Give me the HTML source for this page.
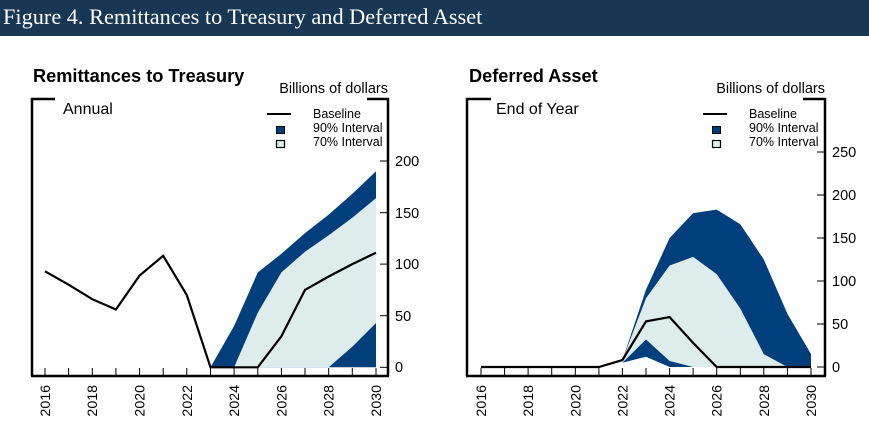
<!DOCTYPE html>
<html><head><meta charset="utf-8"><style>
html,body{margin:0;padding:0;background:#fff;width:869px;height:433px;overflow:hidden}
svg{display:block}
.s{font-family:"Liberation Sans",Arial,sans-serif}
</style></head><body>
<svg width="869" height="433" viewBox="0 0 869 433" xmlns="http://www.w3.org/2000/svg">
<rect x="0" y="0" width="869" height="36" fill="#173755"/>
<text x="3" y="24" font-family="Liberation Serif,serif" font-size="22.3" fill="#fff">Figure 4. Remittances to Treasury and Deferred Asset</text>

<!-- LEFT -->
<g class="s">
<text x="33" y="82" font-size="18.2" font-weight="bold">Remittances to Treasury</text>
<text x="388" y="93" font-size="14.5" text-anchor="end">Billions of dollars</text>
<polygon fill="#003f7c" points="210.5,367.3 234.1,326 257.8,272.4 281.4,253.8 305,233.1 328.7,214.6 352.3,193.9 376,171.2 376,367.3"/>
<polygon fill="#deeceb" points="234.1,367.3 257.8,312.6 281.4,272.4 305,251.7 328.7,235.2 352.3,217.7 376,198.1 376,323 352.3,346.7 328.7,367.3"/>
<path d="M32,376 V99 H55 M367,99 H388 V376" fill="none" stroke="#000" stroke-width="2.5"/>
<line x1="31" y1="376" x2="389" y2="376" stroke="#000" stroke-width="2.5"/>
<g stroke="#000" stroke-width="1">
<line x1="380" y1="161" x2="388" y2="161"/><line x1="380" y1="212.7" x2="388" y2="212.7"/><line x1="380" y1="264.1" x2="388" y2="264.1"/><line x1="380" y1="315.7" x2="388" y2="315.7"/><line x1="380" y1="367.3" x2="388" y2="367.3"/>
<path d="M45,376V368 M68.6,376V368 M92.3,376V368 M115.9,376V368 M139.6,376V368 M163.2,376V368 M186.8,376V368 M210.5,376V368 M234.1,376V368 M257.8,376V368 M281.4,376V368 M305,376V368 M328.7,376V368 M352.3,376V368 M376,376V368"/>
</g>
<polyline fill="none" stroke="#000" stroke-width="2.2" points="45,271.3 68.6,284.7 92.3,299.2 115.9,309.5 139.6,275.5 163.2,255.8 186.8,295.1 210.5,367.3 234.1,367.3 257.8,367.3 281.4,336.3 305,289.9 328.7,276.5 352.3,264.1 376,252.7"/>
<text x="63" y="114" font-size="16">Annual</text>
<line x1="267" y1="114" x2="291" y2="114" stroke="#000" stroke-width="2"/>
<rect x="276.5" y="126.5" width="8" height="7" fill="#003f7c" stroke="#000" stroke-width="1"/>
<rect x="276.5" y="140.5" width="8" height="7" fill="#deeceb" stroke="#000" stroke-width="1.2"/>
<text x="313" y="118" font-size="12.5">Baseline</text>
<text x="313" y="132" font-size="12.5">90% Interval</text>
<text x="313" y="146" font-size="12.5">70% Interval</text>
<g font-size="14.5">
<text x="395" y="166">200</text><text x="395" y="218">150</text><text x="395" y="269">100</text><text x="395" y="321">50</text><text x="395" y="372">0</text>
</g>
<g font-size="14.2" text-anchor="end">
<text transform="translate(50,385) rotate(-90)">2016</text>
<text transform="translate(97,385) rotate(-90)">2018</text>
<text transform="translate(144.5,385) rotate(-90)">2020</text>
<text transform="translate(191.8,385) rotate(-90)">2022</text>
<text transform="translate(239,385) rotate(-90)">2024</text>
<text transform="translate(286.4,385) rotate(-90)">2026</text>
<text transform="translate(333.7,385) rotate(-90)">2028</text>
<text transform="translate(381,385) rotate(-90)">2030</text>
</g>
</g>

<!-- RIGHT -->
<g class="s">
<text x="469" y="82" font-size="18.2" font-weight="bold">Deferred Asset</text>
<text x="825" y="93" font-size="14.5" text-anchor="end">Billions of dollars</text>
<polygon fill="#003f7c" points="622.4,362.7 622.4,360.1 646,289.6 669.6,238 693.1,213.1 716.7,209.6 740.3,224.2 763.8,259.5 787.4,313.7 811,354.1 811,367 669.6,367 646,356.7"/>
<polygon fill="#deeceb" points="622.4,360.1 646,298.2 669.6,265.5 693.1,256.9 716.7,274.1 740.3,308.5 763.8,354.1 787.4,367 693.1,367 669.6,361 646,339.5 622.4,362.7"/>
<path d="M467,376 V99 H491 M803,99 H825 V376" fill="none" stroke="#000" stroke-width="2.5"/>
<line x1="466" y1="376" x2="826" y2="376" stroke="#000" stroke-width="2.5"/>
<g stroke="#000" stroke-width="1">
<line x1="817" y1="152" x2="825" y2="152"/><line x1="817" y1="195" x2="825" y2="195"/><line x1="817" y1="238" x2="825" y2="238"/><line x1="817" y1="281" x2="825" y2="281"/><line x1="817" y1="324" x2="825" y2="324"/><line x1="817" y1="367" x2="825" y2="367"/>
<path d="M481,376V368 M504.6,376V368 M528.1,376V368 M551.7,376V368 M575.3,376V368 M598.9,376V368 M622.4,376V368 M646,376V368 M669.6,376V368 M693.1,376V368 M716.7,376V368 M740.3,376V368 M763.8,376V368 M787.4,376V368 M811,376V368"/>
</g>
<polyline fill="none" stroke="#000" stroke-width="2.2" points="481,367 598.9,367 622.4,360.1 646,321.4 669.6,317.1 693.1,342.9 716.7,367 811,367"/>
<text x="496" y="114" font-size="16">End of Year</text>
<line x1="703" y1="114" x2="727" y2="114" stroke="#000" stroke-width="2"/>
<rect x="712.5" y="126.5" width="8" height="7" fill="#003f7c" stroke="#000" stroke-width="1"/>
<rect x="712.5" y="140.5" width="8" height="7" fill="#deeceb" stroke="#000" stroke-width="1.2"/>
<text x="749" y="118" font-size="12.5">Baseline</text>
<text x="749" y="132" font-size="12.5">90% Interval</text>
<text x="749" y="146" font-size="12.5">70% Interval</text>
<g font-size="14.5">
<text x="832" y="157">250</text><text x="832" y="200">200</text><text x="832" y="243">150</text><text x="832" y="286">100</text><text x="832" y="329">50</text><text x="832" y="372">0</text>
</g>
<g font-size="14.2" text-anchor="end">
<text transform="translate(486,385) rotate(-90)">2016</text>
<text transform="translate(533.1,385) rotate(-90)">2018</text>
<text transform="translate(580.3,385) rotate(-90)">2020</text>
<text transform="translate(627.4,385) rotate(-90)">2022</text>
<text transform="translate(674.6,385) rotate(-90)">2024</text>
<text transform="translate(721.7,385) rotate(-90)">2026</text>
<text transform="translate(768.8,385) rotate(-90)">2028</text>
<text transform="translate(816,385) rotate(-90)">2030</text>
</g>
</g>
</svg>
</body></html>
